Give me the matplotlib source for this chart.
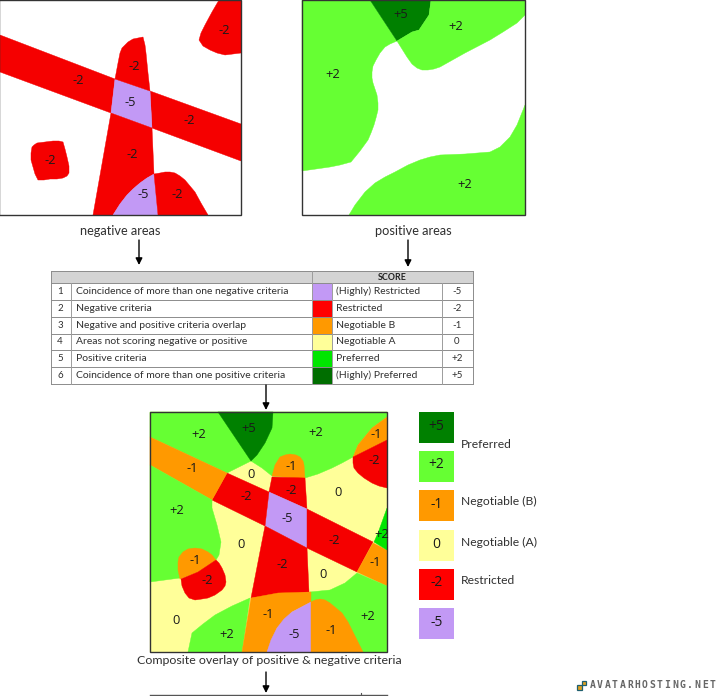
import matplotlib
matplotlib.use('Agg')
import matplotlib.pyplot as plt
from matplotlib.patches import Polygon, Rectangle


WIDTH, HEIGHT = 722, 696
GOTHIC = 'Lato'
NUMBERS = 'Open Sans'

RED = '#f50000'
PURPLE = '#c299f5'
ORANGE = '#ff9900'
YELLOW = '#ffff99'
GREEN = '#66ff33'
DARK_GREEN = '#008000'
BRIGHT_GREEN = '#00e600'
TEXT_COLOR = '#303030'
EDGE_COLOR = '#333333'

# negative areas panel, traced outlines
NEG_REGIONS = [
    (RED, [(0, 35), (115, 79), (111, 113), (0, 72)]),
    (RED, [(150, 91), (241, 124), (241, 161), (152, 128)]),
    (PURPLE, [(115, 79), (150, 91), (152, 128), (111, 113)]),
    (RED, [(115, 79), (118, 63), (120, 53), (122, 48), (125, 45), (128, 42), (133, 39), (138, 38), (143, 37),
           (145, 45), (146, 53), (148, 73), (150, 91)]),
    (RED, [(111, 113), (152, 128), (154, 174), (147, 178), (140, 183), (133, 189), (127, 195), (120, 204),
           (113, 215), (93, 215)]),
    (PURPLE, [(154, 174), (158, 215), (113, 215), (120, 204), (127, 195), (133, 189), (140, 183), (147, 178)]),
    (RED, [(154, 174), (160, 173), (165, 172), (170, 172), (175, 173), (180, 176), (185, 180), (190, 186),
           (195, 192), (201, 203), (208, 215), (158, 215)]),
    (RED, [(219, 0), (241, 0), (241, 53), (233, 54), (225, 55), (217, 53), (210, 50), (203, 46), (199, 40),
           (201, 33), (205, 25), (212, 12)]),
    (RED, [(32, 147), (34, 145), (37, 143), (45, 142), (53, 141), (59, 141), (63, 142), (65, 149), (67, 157),
           (69, 166), (69, 173), (67, 176), (63, 178), (57, 179), (50, 179), (44, 180), (38, 180), (35, 174),
           (33, 167), (31, 160), (31, 153)]),
]
NEG_LABELS = [('-2', 78, 81), ('-2', 134, 67), ('-5', 130, 102), ('-2', 189, 120), ('-2', 132, 154),
              ('-2', 50, 160), ('-5', 143, 194), ('-2', 177, 195), ('-2', 224, 30)]

# positive areas panel
POS_REGIONS = [
    (GREEN, [(302, 0), (370, 0), (397, 41), (390, 44), (385, 47), (380, 53), (376, 60), (373, 66), (372, 72),
             (372, 78), (373, 83), (375, 89), (377, 95), (378, 103), (378, 110), (376, 118), (374, 125),
             (371, 133), (368, 140), (360, 151), (351, 162), (340, 165), (330, 167), (316, 169), (302, 171)]),
    (DARK_GREEN, [(370, 0), (431, 0), (429, 15), (419, 30), (412, 32), (397, 41)]),
    (GREEN, [(431, 0), (525, 0), (525, 15), (517, 23), (503, 32), (490, 40), (465, 53), (440, 67), (434, 69),
             (428, 70), (422, 70), (417, 68), (412, 64), (407, 57), (397, 41), (412, 32), (419, 30), (429, 15)]),
    (GREEN, [(349, 215), (355, 205), (365, 192), (375, 183), (385, 177), (395, 172), (408, 165), (420, 160),
             (430, 157), (440, 155), (465, 154), (490, 152), (500, 147), (510, 137), (517, 125), (521, 115),
             (525, 105), (525, 215)]),
]
POS_LABELS = [('+5', 401, 14), ('+2', 456, 26), ('+2', 333, 74), ('+2', 465, 184)]

# composite overlay panel, painted in this order
COMPOSITE_REGIONS = [
    (YELLOW, [(150, 412), (387, 412), (387, 652), (150, 652)]),
    (GREEN, [(150, 412), (218, 412), (251, 461), (227, 473), (150, 437)]),
    (GREEN, [(218, 412), (387, 412), (387, 417), (372, 428), (358, 445), (353, 457), (342, 463), (332, 468),
             (318, 474), (305, 478), (272, 476), (262, 468), (251, 461)]),
    (DARK_GREEN, [(218, 412), (273, 412), (272, 428), (265, 443), (257, 455), (251, 461)]),
    (ORANGE, [(387, 417), (372, 428), (358, 445), (353, 457), (387, 440)]),
    (RED, [(353, 457), (387, 440), (387, 488), (379, 486), (372, 483), (364, 478), (358, 473), (354, 468),
           (353, 463)]),
    (ORANGE, [(272, 476), (275, 465), (280, 457), (285, 455), (290, 454), (296, 455), (300, 457), (303, 461),
              (304, 465), (305, 479)]),
    (RED, [(272, 477), (305, 478), (307, 509), (269, 492)]),
    (PURPLE, [(269, 492), (307, 509), (307, 548), (265, 526)]),
    (RED, [(227, 473), (269, 492), (265, 526), (212, 500)]),
    (ORANGE, [(150, 437), (227, 473), (212, 500), (150, 465)]),
    (RED, [(307, 509), (373, 542), (357, 572), (307, 548)]),
    (ORANGE, [(373, 543), (387, 550), (387, 586), (357, 572)]),
    (BRIGHT_GREEN, [(387, 508), (387, 550), (374, 542), (378, 533)]),
    (RED, [(265, 526), (307, 548), (309, 592), (278, 595), (251, 598)]),
    (GREEN, [(150, 465), (212, 500), (212, 508), (217, 525), (221, 542), (219, 555), (216, 560),
             (180, 578), (150, 582)]),
    (ORANGE, [(216, 560), (212, 555), (208, 552), (202, 549), (195, 548), (188, 549), (183, 552), (179, 557),
              (178, 562), (178, 570), (180, 579), (198, 572)]),
    (RED, [(216, 560), (219, 563), (222, 568), (225, 575), (226, 582), (225, 586), (222, 590), (215, 595),
           (208, 598), (202, 599), (195, 600), (189, 598), (185, 593), (182, 586), (181, 579), (198, 572)]),
    (GREEN, [(188, 652), (192, 633), (203, 624), (215, 615), (232, 606), (250, 598), (242, 652)]),
    (GREEN, [(310, 592), (330, 590), (345, 583), (357, 573), (387, 586), (387, 652), (363, 652), (311, 602)]),
    (ORANGE, [(251, 598), (278, 593), (311, 592), (311, 602), (292, 612), (277, 628), (267, 652), (242, 652)]),
    (PURPLE, [(311, 602), (311, 652), (267, 652), (271, 640), (277, 628), (284, 619), (292, 612)]),
    (ORANGE, [(311, 602), (315, 600), (320, 599), (325, 600), (330, 603), (336, 608), (342, 613), (348, 622),
              (353, 632), (358, 642), (363, 652), (311, 652)]),
]
COMPOSITE_LABELS = [('+2', 199, 435), ('+5', 249, 428), ('+2', 316, 432), ('-1', 376, 434), ('-2', 374, 460),
                    ('-1', 192, 469), ('0', 251, 475), ('-1', 291, 467), ('-2', 291, 490), ('0', 338, 492),
                    ('-2', 246, 497), ('+2', 177, 511), ('-5', 287, 518), ('-2', 334, 541), ('+2', 382, 535),
                    ('0', 241, 544), ('-1', 195, 560), ('-2', 207, 581), ('-2', 282, 565), ('0', 323, 575),
                    ('-1', 375, 563), ('-1', 268, 614), ('+2', 368, 616), ('0', 176, 620), ('+2', 227, 634),
                    ('-5', 294, 635), ('-1', 331, 630)]

# score table
ROW_NUMBERS = ['1', '2', '3', '4', '5', '6']
ROW_CRITERIA = ['Coincidence of more than one negative criteria', 'Negative criteria',
                'Negative and positive criteria overlap', 'Areas not scoring negative or positive',
                'Positive criteria', 'Coincidence of more than one positive criteria']
ROW_COLORS = [PURPLE, '#ff0000', ORANGE, YELLOW, BRIGHT_GREEN, '#006e00']
ROW_NAMES = ['(Highly) Restricted', 'Restricted', 'Negotiable B', 'Negotiable A', 'Preferred', '(Highly) Preferred']
ROW_SCORES = ['-5', '-2', '-1', '0', '+2', '+5']

# legend
LEGEND_SCORES = ['+5', '+2', '-1', '0', '-2', '-5']
LEGEND_COLORS = [DARK_GREEN, GREEN, ORANGE, YELLOW, '#ff0000', PURPLE]
LEGEND_TOPS = [412, 451, 490, 530, 569, 608]
LEGEND_NAMES = [('Preferred', 445), ('Negotiable (B)', 501), ('Negotiable (A)', 542), ('Restricted', 581)]


def draw_regions(ax, regions):
    for color, points in regions:
        ax.add_patch(Polygon(points, closed=True, facecolor=color, edgecolor=color, linewidth=0.3))


def draw_labels(ax, labels, size=9.3):
    for text, x, y in labels:
        ax.text(x, y, text, fontsize=size, family=NUMBERS, color='#1a1a1a', ha='center', va='center')


def draw_frame(ax, left, top, right, bottom):
    ax.add_patch(Rectangle((left, top), right - left, bottom - top, fill=False,
                           edgecolor=EDGE_COLOR, linewidth=1.0))


def draw_arrow(ax, x, y0, y1):
    ax.annotate('', xy=(x, y1), xytext=(x, y0),
                arrowprops=dict(arrowstyle='-|>', color='black', linewidth=1.0,
                                mutation_scale=10, shrinkA=0, shrinkB=0))


def draw_table(ax):
    left, right = 51, 473
    top, header = 271, 283.3
    row_h = 16.75
    ax.add_patch(Rectangle((left, top), right - left, header - top, facecolor='#d4d4d4', edgecolor='none'))
    ax.text(392, 277, 'SCORE', fontsize=6.4, family=GOTHIC, weight='bold', color='#222222', ha='center', va='center')
    for i in range(len(ROW_NUMBERS)):
        y0 = header + i * row_h
        mid = y0 + row_h / 2
        ax.add_patch(Rectangle((312, y0), 20, row_h, facecolor=ROW_COLORS[i], edgecolor='none'))
        ax.text(60, mid, ROW_NUMBERS[i], fontsize=7, family=GOTHIC, color=TEXT_COLOR, ha='center', va='center')
        ax.text(76, mid, ROW_CRITERIA[i], fontsize=7.5, family=GOTHIC, color=TEXT_COLOR, ha='left', va='center')
        ax.text(336, mid, ROW_NAMES[i], fontsize=7.5, family=GOTHIC, color=TEXT_COLOR, ha='left', va='center')
        ax.text(457, mid, ROW_SCORES[i], fontsize=7, family=GOTHIC, color=TEXT_COLOR, ha='center', va='center')
    bottom = header + len(ROW_NUMBERS) * row_h
    for i in range(len(ROW_NUMBERS) + 1):
        y = header + i * row_h
        ax.plot([left, right], [y, y], color='#8c8c8c', linewidth=0.7)
    ax.plot([left, right], [top, top], color='#8c8c8c', linewidth=0.7)
    for x in (left, right):
        ax.plot([x, x], [top, bottom], color='#8c8c8c', linewidth=0.7)
    ax.plot([312, 312], [top, bottom], color='#9c9c9c', linewidth=0.7)
    for x in (71, 332, 442):
        ax.plot([x, x], [header, bottom], color='#9c9c9c', linewidth=0.7)


def draw_legend(ax):
    for score, color, top in zip(LEGEND_SCORES, LEGEND_COLORS, LEGEND_TOPS):
        ax.add_patch(Rectangle((419, top), 35, 31, facecolor=color, edgecolor='none'))
        ax.text(436.5, top + 14, score, fontsize=10, family=NUMBERS, color='#1a1a1a', ha='center', va='center')
    for name, y in LEGEND_NAMES:
        ax.text(461, y, name, fontsize=8.7, family=GOTHIC, color=TEXT_COLOR, ha='left', va='center')


def draw_watermark(ax):
    ax.add_patch(Rectangle((576.5, 684.5), 5, 5, facecolor='#e0a020', edgecolor='#1f5f6f', linewidth=0.9))
    ax.add_patch(Rectangle((581.5, 680.5), 4.5, 4.5, facecolor='#e0a020', edgecolor='#1f5f6f', linewidth=0.9))
    for i, char in enumerate('AVATARHOSTING.NET'):
        ax.text(592.5 + i * 7.5, 684.5, char, fontsize=7, family='DejaVu Sans Mono', weight='bold',
                color='#666666', ha='center', va='center')


fig = plt.figure(figsize=(WIDTH / 100, HEIGHT / 100), dpi=100)
ax = fig.add_axes([0, 0, 1, 1])
ax.set_xlim(0, WIDTH)
ax.set_ylim(HEIGHT, 0)
ax.axis('off')

draw_regions(ax, NEG_REGIONS)
draw_frame(ax, -1, 0, 241, 215)
draw_labels(ax, NEG_LABELS)

draw_regions(ax, POS_REGIONS)
draw_frame(ax, 302, 0, 525, 215)
draw_labels(ax, POS_LABELS)

draw_regions(ax, COMPOSITE_REGIONS)
draw_frame(ax, 150, 412, 387, 652)
draw_labels(ax, COMPOSITE_LABELS)

ax.text(120, 231, 'negative areas', fontsize=9.2, family=GOTHIC, color=TEXT_COLOR, ha='center', va='center')
ax.text(413, 231, 'positive areas', fontsize=9.2, family=GOTHIC, color=TEXT_COLOR, ha='center', va='center')
ax.text(269, 661, 'Composite overlay of positive & negative criteria', fontsize=8.9, family=GOTHIC,
        color=TEXT_COLOR, ha='center', va='center')

draw_arrow(ax, 139, 240, 265)
draw_arrow(ax, 408, 240, 267)
draw_arrow(ax, 266, 385, 410)
draw_arrow(ax, 266, 672, 693)

draw_table(ax)
draw_legend(ax)

# start of the next table, cut off by the image edge
ax.plot([150, 387], [694.5, 694.5], color='#555555', linewidth=1.0)
ax.plot([361, 361], [693, 696], color='#555555', linewidth=0.8)

draw_watermark(ax)

fig.savefig('out.png', dpi=100, facecolor='white')
